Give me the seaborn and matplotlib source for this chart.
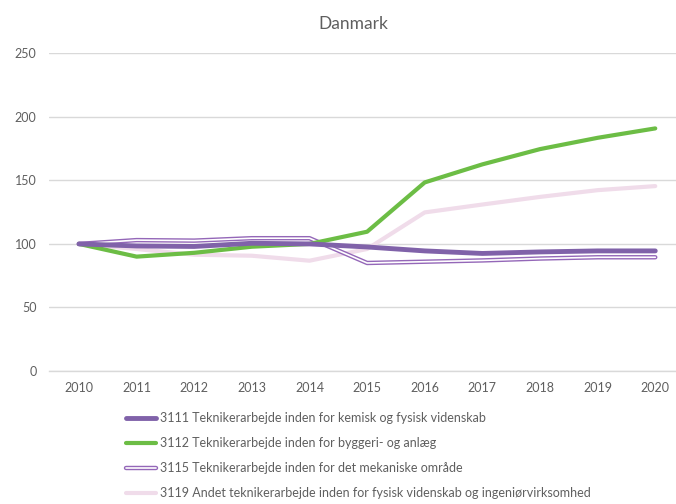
import seaborn as sns
import matplotlib.pyplot as plt
import matplotlib.patheffects as pe
from matplotlib.lines import Line2D
import pandas as pd

# data, index 2010 = 100
years = [2010, 2011, 2012, 2013, 2014, 2015, 2016, 2017, 2018, 2019, 2020]
s3111 = [100, 98.4, 98.0, 100.5, 100.0, 97.6, 94.5, 92.5, 93.7, 94.5, 94.5]
s3112 = [100, 90.0, 93.0, 97.8, 100.0, 109.6, 148.4, 162.6, 174.6, 183.5, 190.9]
s3115 = [100, 103.0, 102.6, 104.5, 104.5, 85.0, 86.0, 87.0, 88.5, 89.5, 89.5]
s3119 = [100, 96.0, 91.5, 90.7, 86.8, 96.0, 124.8, 131.0, 137.0, 142.3, 145.5]

labels = ['3111 Teknikerarbejde inden for kemisk og fysisk videnskab',
          '3112 Teknikerarbejde inden for byggeri- og anlæg',
          '3115 Teknikerarbejde inden for det mekaniske område',
          '3119 Andet teknikerarbejde inden for fysisk videnskab og ingeniørvirksomhed']

purple = '#8062a9'
purple2 = '#9467b8'
green = '#6cbd45'
pink = '#f0dcea'
txt = '#5f5f5f'
gridc = '#d9d9d9'

sns.set_style('white')
plt.rcParams['font.family'] = ['Lato', 'DejaVu Sans']

fig = plt.figure(figsize=(6.76, 5.04), dpi=100)
ax = fig.add_axes([49 / 676, 1 - 371 / 504, 1 - 49 / 676, (371 - 53.3) / 504])

df = pd.DataFrame({'year': years, 's3111': s3111, 's3112': s3112,
                   's3115': s3115, 's3119': s3119})

sns.lineplot(data=df, x='year', y='s3119', ax=ax, color=pink, linewidth=3.0, zorder=3)
sns.lineplot(data=df, x='year', y='s3115', ax=ax, color='white', linewidth=1.2, zorder=4,
             path_effects=[pe.Stroke(linewidth=3.2, foreground=purple2), pe.Normal()])
sns.lineplot(data=df, x='year', y='s3112', ax=ax, color=green, linewidth=3.0, zorder=5)
sns.lineplot(data=df, x='year', y='s3111', ax=ax, color=purple, linewidth=3.5, zorder=6)

ax.set_xlim(2009.48, 2020.36)
ax.set_ylim(0, 250)
ax.set_yticks(range(0, 251, 50))
ax.set_xticks(years)
ax.set_xlabel('')
ax.set_ylabel('')
ax.grid(axis='y', color=gridc, linewidth=1)
ax.set_axisbelow(True)
for s in ['top', 'right', 'left']:
    ax.spines[s].set_visible(False)
ax.spines['bottom'].set_color(gridc)
ax.spines['bottom'].set_linewidth(1)
ax.tick_params(axis='both', length=0, labelsize=9, colors=txt)
ax.tick_params(axis='x', pad=8)
ax.tick_params(axis='y', pad=9)

fig.text(353 / 676, 1 - 24 / 504, 'Danmark', ha='center', va='center',
         fontsize=12.5, color=txt)

handles = [
    Line2D([], [], color=purple, linewidth=3.5),
    Line2D([], [], color=green, linewidth=3.0),
    Line2D([], [], color='white', linewidth=1.2,
           path_effects=[pe.Stroke(linewidth=3.2, foreground=purple2), pe.Normal()]),
    Line2D([], [], color=pink, linewidth=3.0),
]
leg = fig.legend(handles, labels, loc='upper left', bbox_to_anchor=(126 / 676, 1 - 412 / 504),
                 frameon=False, fontsize=9, handlelength=2.4, handletextpad=0.3,
                 labelspacing=1.05, borderpad=0, borderaxespad=0)
for t in leg.get_texts():
    t.set_color(txt)

fig.savefig('out.png', dpi=100)
